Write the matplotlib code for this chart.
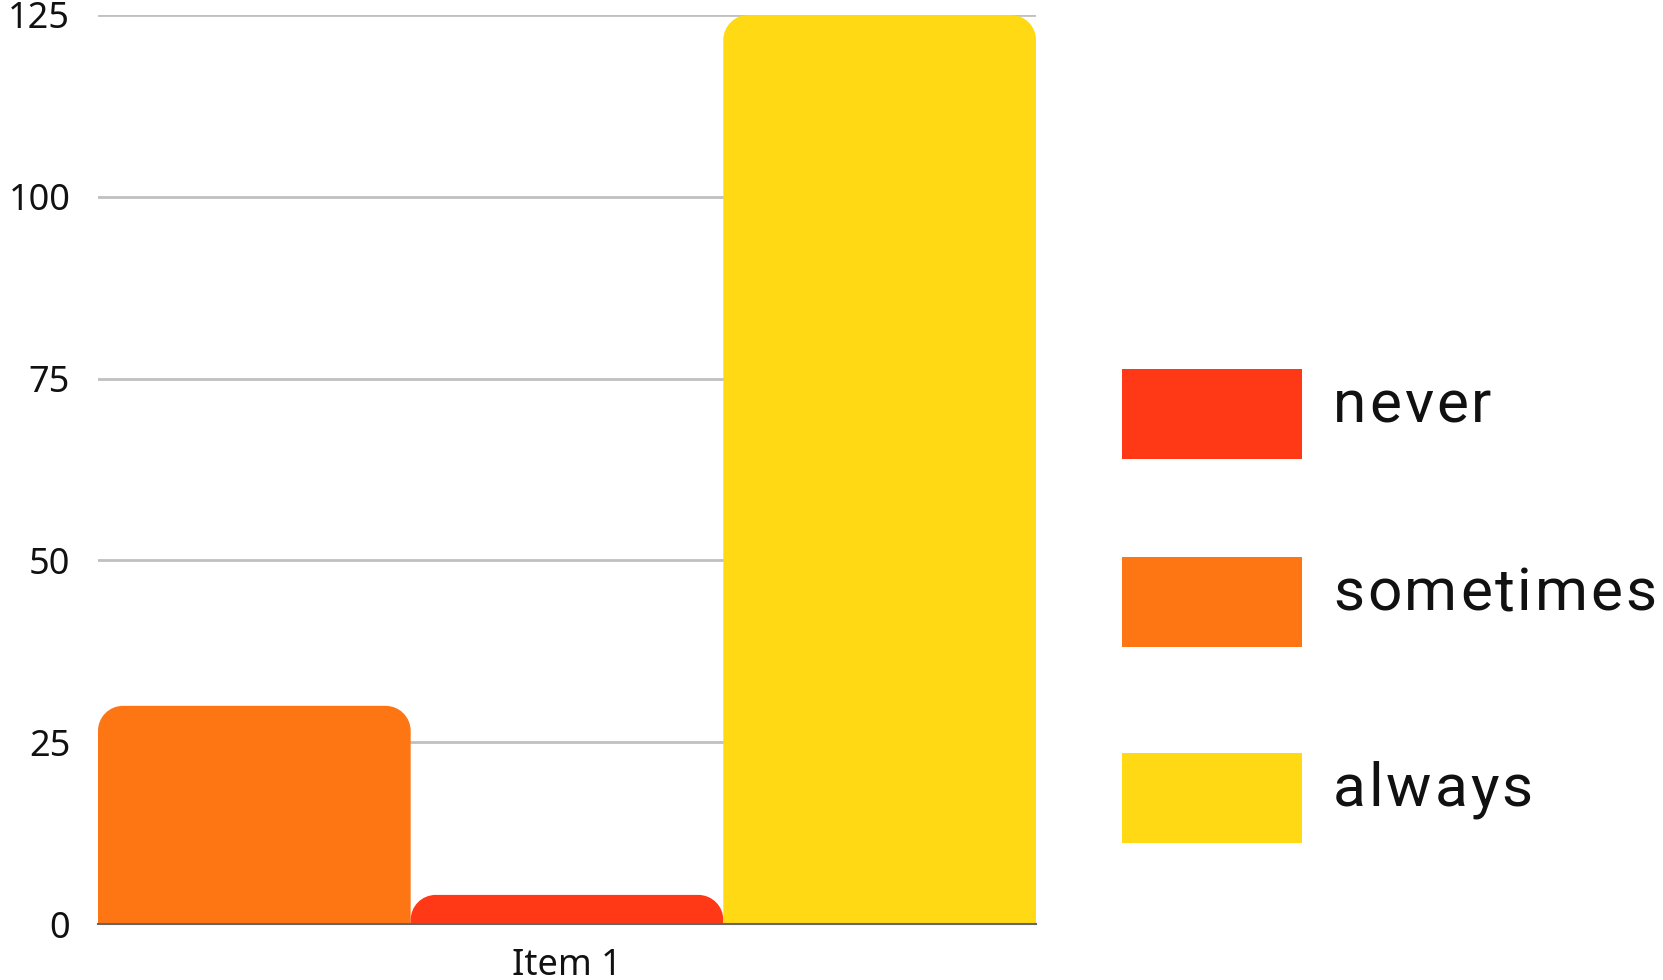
import matplotlib
matplotlib.use("Agg")
import matplotlib.pyplot as plt
from matplotlib.patches import Rectangle, PathPatch
from matplotlib.path import Path

categories = ["Item 1"]
series_names = ["sometimes", "never", "always"]
series_values = [30, 4, 125]
series_colors = ["#FE7614", "#FF3916", "#FED914"]
legend_order = ["never", "sometimes", "always"]
yticks = [0, 25, 50, 75, 100, 125]

W, H, DPI = 1663, 980, 100
fig = plt.figure(figsize=(W / DPI, H / DPI), dpi=DPI)
ax_l, ax_r, ax_b, ax_t = 98, 1036, 924, 15
ax = fig.add_axes([ax_l / W, 1 - ax_b / H, (ax_r - ax_l) / W, (ax_b - ax_t) / H])
ax.set_xlim(-0.5, 0.5)
ax.set_ylim(0, 125)

n = len(series_names)
bw = 1.0 / n
bars = []
for i, (name, val, col) in enumerate(zip(series_names, series_values, series_colors)):
    x = -0.5 + bw * i + bw / 2
    b = ax.bar(x, val, width=bw, color=col, label=name, zorder=2)
    bars.append(b[0])

# Replace bars with top-rounded shapes (radius given in pixels)
x_per_px = 1.0 / (ax_r - ax_l)
y_per_px = 125.0 / (ax_b - ax_t)
r_px = 25
k = 0.5523
for rect in bars:
    x0, y0 = rect.get_x(), rect.get_y()
    w, h = rect.get_width(), rect.get_height()
    col = rect.get_facecolor()
    rect.set_visible(False)
    rx = min(r_px * x_per_px, w / 2)
    ry = min(r_px * y_per_px, h)
    x1, top = x0 + w, y0 + h
    verts = [
        (x0, y0), (x1, y0), (x1, top - ry),
        (x1, top - ry + k * ry), (x1 - rx + k * rx, top), (x1 - rx, top),
        (x0 + rx, top),
        (x0 + rx - k * rx, top), (x0, top - ry + k * ry), (x0, top - ry),
        (x0, y0),
    ]
    codes = [Path.MOVETO, Path.LINETO, Path.LINETO,
             Path.CURVE4, Path.CURVE4, Path.CURVE4,
             Path.LINETO,
             Path.CURVE4, Path.CURVE4, Path.CURVE4,
             Path.CLOSEPOLY]
    ax.add_patch(PathPatch(Path(verts, codes), facecolor=col, edgecolor="none",
                           zorder=2))

ax.set_yticks(yticks)
ax.set_yticklabels([str(t) for t in yticks])
ax.set_xticks([0])
ax.set_xticklabels(categories)
for sp in ["top", "right", "left"]:
    ax.spines[sp].set_visible(False)
ax.spines["bottom"].set_color("#666666")
ax.spines["bottom"].set_linewidth(1.5)
ax.spines["bottom"].set_zorder(3)
ax.grid(axis="y", color="#c0c0c0", linewidth=2, zorder=0)
ax.set_axisbelow(True)
ax.tick_params(axis="both", length=0, labelsize=26, colors="#111111")
ax.tick_params(axis="y", pad=20)
ax.tick_params(axis="x", pad=17)
for lab in ax.get_xticklabels() + ax.get_yticklabels():
    lab.set_fontfamily("Noto Sans")

# Legend with letter-spaced labels
fig.canvas.draw()
renderer = fig.canvas.get_renderer()
name_to_col = dict(zip(series_names, series_colors))
patch_x0, patch_x1 = 1122, 1302
patch_h = 90
centers = [414, 601.5, 797.5]
text_x = 1333
spacing_px = 2.8
fs = 43.5
for name, cy in zip(legend_order, centers):
    fig.patches.append(Rectangle((patch_x0 / W, 1 - (cy + patch_h / 2) / H),
                                 (patch_x1 - patch_x0) / W, patch_h / H,
                                 transform=fig.transFigure, facecolor=name_to_col[name],
                                 edgecolor="none"))
    base_y = 1 - (cy + 8.5) / H
    for i, ch in enumerate(name):
        prefix = name[:i]
        if prefix:
            t = fig.text(0, 0, prefix, fontsize=fs, family="Roboto")
            wpx = t.get_window_extent(renderer=renderer).width
            t.remove()
        else:
            wpx = 0
        fig.text((text_x + wpx + i * spacing_px) / W, base_y, ch, fontsize=fs,
                 family="Roboto", va="baseline", ha="left", color="#111111")

fig.savefig("out.png", dpi=DPI)
